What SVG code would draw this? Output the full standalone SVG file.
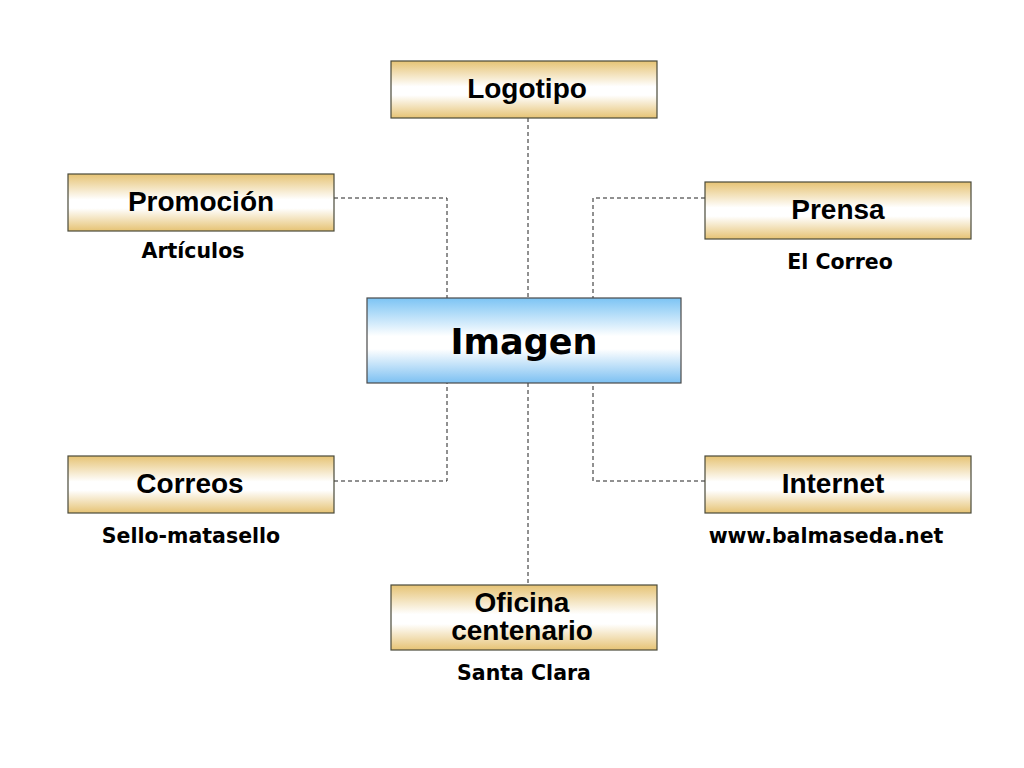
<svg xmlns="http://www.w3.org/2000/svg" width="1024" height="768" viewBox="0 0 1024 768">
<defs>
<linearGradient id="gold" x1="0" y1="0" x2="0" y2="1">
<stop offset="0" stop-color="#E6C374"/>
<stop offset="0.45" stop-color="#FFFFFF"/>
<stop offset="0.6" stop-color="#FFFFFF"/>
<stop offset="1" stop-color="#E6C374"/>
</linearGradient>
<linearGradient id="blue" x1="0" y1="0" x2="0" y2="1">
<stop offset="0" stop-color="#7CC4F4"/>
<stop offset="0.45" stop-color="#FFFFFF"/>
<stop offset="0.6" stop-color="#FFFFFF"/>
<stop offset="1" stop-color="#7CC0F2"/>
</linearGradient>
<style>
.box{fill:url(#gold);stroke:#4a4a3a;stroke-width:1.2}
.main{fill:url(#blue);stroke:#4a4a4a;stroke-width:1.2}
.lbl{font-family:"Liberation Sans",Arial,sans-serif;font-weight:bold;font-size:28px;fill:#000;text-anchor:middle}
.big{font-family:"DejaVu Sans",Verdana,sans-serif;font-weight:bold;font-size:35px;fill:#000;text-anchor:middle}
.sub{font-family:"DejaVu Sans",Verdana,sans-serif;font-weight:bold;font-size:20.5px;fill:#000;text-anchor:middle}
.con{fill:none;stroke:#222;stroke-width:1;stroke-dasharray:4 3}
</style>
</defs>
<rect width="1024" height="768" fill="#fff"/>
<g id="connectors">
<path class="con" d="M528,118 V298"/>
<path class="con" d="M528,383 V585"/>
<path class="con" d="M334,198 H447 V298"/>
<path class="con" d="M705,198 H593 V298"/>
<path class="con" d="M334,481 H447 V383"/>
<path class="con" d="M705,481 H593 V383"/>
</g>
<g id="imagen">
<rect class="main" x="367" y="298" width="314" height="85"/>
<text class="big" x="524" y="354">Imagen</text>
</g>
<g id="logotipo">
<rect class="box" x="391" y="61" width="266" height="57"/>
<text class="lbl" x="527" y="98">Logotipo</text>
</g>
<g id="promocion">
<rect class="box" x="68" y="174" width="266" height="57"/>
<text class="lbl" x="201" y="211">Promoción</text>
<text class="sub" x="193" y="258">Artículos</text>
</g>
<g id="prensa">
<rect class="box" x="705" y="182" width="266" height="57"/>
<text class="lbl" x="838" y="219">Prensa</text>
<text class="sub" x="840" y="269">El Correo</text>
</g>
<g id="correos">
<rect class="box" x="68" y="456" width="266" height="57"/>
<text class="lbl" x="190" y="493">Correos</text>
<text class="sub" x="191" y="543">Sello-matasello</text>
</g>
<g id="internet">
<rect class="box" x="705" y="456" width="266" height="57"/>
<text class="lbl" x="833" y="493">Internet</text>
<text class="sub" x="826" y="543">www.balmaseda.net</text>
</g>
<g id="oficina">
<rect class="box" x="391" y="585" width="266" height="65"/>
<text class="lbl" x="522" y="612">Oficina</text>
<text class="lbl" x="522" y="640">centenario</text>
<text class="sub" x="524" y="680">Santa Clara</text>
</g>
</svg>
